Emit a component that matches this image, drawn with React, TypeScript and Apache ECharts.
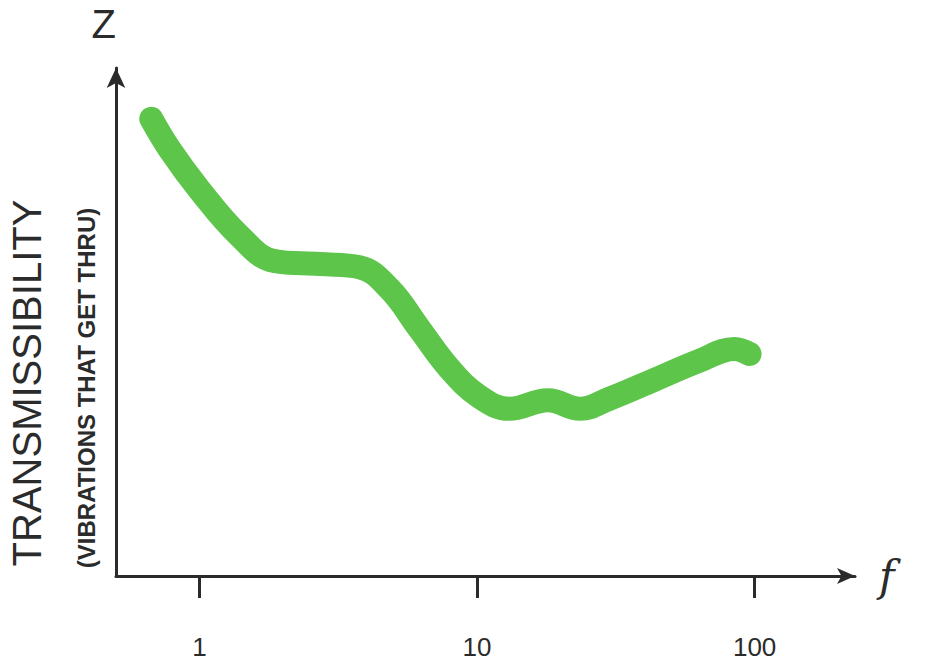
import { useEffect, useRef } from "react"
import * as echarts from "echarts"

// frequency (log axis) and transmissibility
const frequencies = [0.67, 0.78, 1.0, 1.39, 1.86, 2.71, 3.77, 4.84, 6.21, 7.96, 10.2, 13.1, 18.0, 23.5, 30.0, 41.8, 63.4, 84.7, 95.9]
const transmissibility = [90, 84, 76, 67, 62, 61.4, 60.8, 56.5, 48.6, 40.8, 35.3, 32.9, 34.6, 32.9, 34.9, 38.2, 42.4, 44.7, 43.7]
const tickValues = [1, 10, 100]

const ink = "#2b2b2b"
const hand = "'Liberation Sans', 'DejaVu Sans', sans-serif"

export default function App() {
  const chartRef = useRef<HTMLDivElement>(null)

  useEffect(() => {
    if (!chartRef.current) return
    const chart = echarts.init(chartRef.current, null, { renderer: "svg" })

    const points = frequencies.map((f, i) => [f, transmissibility[i]])

    chart.setOption({
      animation: false,
      backgroundColor: "#ffffff",
      grid: { left: 116, right: 73, top: 68, bottom: 95 },
      xAxis: {
        type: "log",
        min: 0.5,
        max: 230,
        name: "f",
        nameLocation: "end",
        nameGap: 24,
        nameTextStyle: { fontFamily: "'DejaVu Serif', serif", fontStyle: "italic", fontSize: 42, color: ink, verticalAlign: "middle" },
        axisLine: { lineStyle: { color: ink, width: 3 }, symbol: ["none", "arrow"], symbolSize: [12, 18] },
        axisTick: { show: true, customValues: tickValues, length: 22, lineStyle: { color: ink, width: 3 } },
        axisLabel: { customValues: tickValues, margin: 58, fontSize: 26, color: ink, fontFamily: hand },
        splitLine: { show: false },
        minorTick: { show: false },
      },
      yAxis: {
        type: "value",
        min: 0,
        max: 100,
        name: "Z",
        nameLocation: "end",
        nameGap: 24,
        nameTextStyle: { fontSize: 40, color: ink, fontFamily: hand, align: "right" },
        axisLine: { show: true, lineStyle: { color: ink, width: 3 }, symbol: ["none", "arrow"], symbolSize: [14, 20] },
        axisTick: { show: false },
        axisLabel: { show: false },
        splitLine: { show: false },
      },
      graphic: [
        {
          type: "text",
          x: 27,
          y: 383,
          rotation: Math.PI / 2,
          style: {
            text: "TRANSMISSIBILITY",
            fill: ink,
            font: `40px ${hand}`,
            align: "center",
            verticalAlign: "middle",
          },
        },
        {
          type: "text",
          x: 86,
          y: 388,
          rotation: Math.PI / 2,
          style: {
            text: "(VIBRATIONS THAT GET THRU)",
            fill: ink,
            font: `bold 24px ${hand}`,
            align: "center",
            verticalAlign: "middle",
          },
        },
      ],
      series: [
        {
          type: "line",
          data: points,
          smooth: 0.4,
          showSymbol: false,
          lineStyle: { color: "#5cc54a", width: 24, cap: "round", join: "round" },
        },
      ],
    })

    return () => {
      chart.dispose()
    }
  }, [])

  return <div ref={chartRef} style={{ position: "absolute", left: 0, top: 0, width: 928, height: 671 }} />
}
